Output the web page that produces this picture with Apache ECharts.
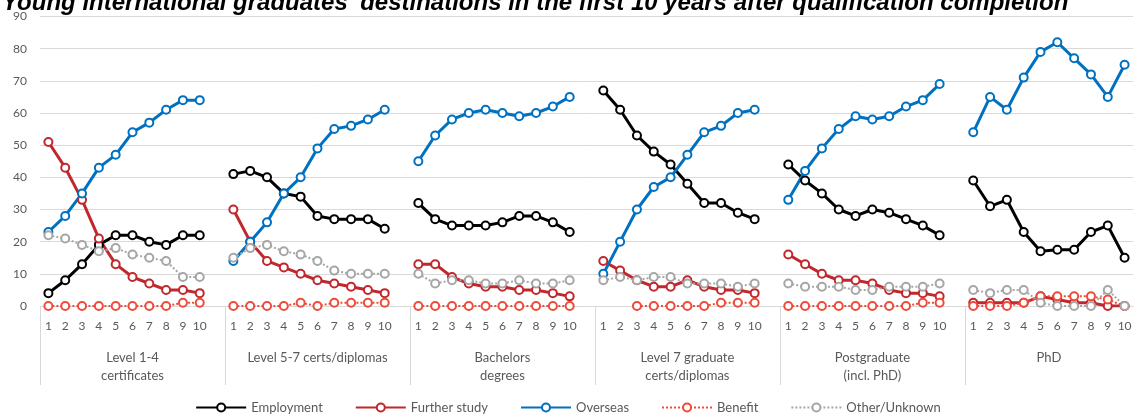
<!DOCTYPE html>
<html>
<head>
<meta charset="utf-8">
<script src="https://cdn.jsdelivr.net/npm/echarts@6/dist/echarts.min.js"></script>
<style>
  html, body { margin: 0; padding: 0; background: #fff; }
  #chart { width: 1136px; height: 414px; }
</style>
</head>
<body>
<div id="chart"></div>
<script>
// ---- Data ----
const chartTitle = "Young international graduates' destinations in the first 10 years after qualification completion";
const years = ['1', '2', '3', '4', '5', '6', '7', '8', '9', '10'];
const groupNames = ['Level 1-4\ncertificates', 'Level 5-7 certs/diplomas', 'Bachelors\ndegrees',
  'Level 7 graduate\ncerts/diplomas', 'Postgraduate\n(incl. PhD)', 'PhD'];
const seriesNames = ['Employment', 'Further study', 'Overseas', 'Benefit', 'Other/Unknown'];
const yTicks = [0, 10, 20, 30, 40, 50, 60, 70, 80, 90];

const employment = [
  [4, 8, 13, 19, 22, 22, 20, 19, 22, 22],
  [41, 42, 40, 35, 34, 28, 27, 27, 27, 24],
  [32, 27, 25, 25, 25, 26, 28, 28, 26, 23],
  [67, 61, 53, 48, 44, 38, 32, 32, 29, 27],
  [44, 39, 35, 30, 28, 30, 29, 27, 25, 22],
  [39, 31, 33, 23, 17, 17.5, 17.5, 23, 25, 15]
];
const furtherStudy = [
  [51, 43, 33, 21, 13, 9, 7, 5, 5, 4],
  [30, 20, 14, 12, 10, 8, 7, 6, 5, 4],
  [13, 13, 9, 7, 6, 6, 5, 5, 4, 3],
  [14, 11, 8, 6, 6, 8, 6, 5, 5, 4],
  [16, 13, 10, 8, 8, 7, 5, 4, 4, 3],
  [1, 1, 1, 1, 3, 2, 1, 1, 0, 0]
];
const overseas = [
  [23, 28, 35, 43, 47, 54, 57, 61, 64, 64],
  [14, 20, 26, 35, 40, 49, 55, 56, 58, 61],
  [45, 53, 58, 60, 61, 60, 59, 60, 62, 65],
  [10, 20, 30, 37, 40, 47, 54, 56, 60, 61],
  [33, 42, 49, 55, 59, 58, 59, 62, 64, 69],
  [54, 65, 61, 71, 79, 82, 77, 72, 65, 75]
];
const benefit = [
  [0, 0, 0, 0, 0, 0, 0, 0, 1, 1],
  [0, 0, 0, 0, 1, 0, 1, 1, 1, 1],
  [0, 0, 0, 0, 0, 0, 0, 0, 0, 0],
  [null, null, 0, 0, 0, 0, 0, 1, 1, 1],
  [0, 0, 0, 0, 0, 0, 0, 0, 1, 1],
  [0, 0, 0, 1, 3, 3, 3, 3, 2, 0]
];
const otherUnknown = [
  [22, 21, 19, 17, 18, 16, 15, 14, 9, 9],
  [15, 18, 19, 17, 16, 14, 11, 10, 10, 10],
  [10, 7, 8, 8, 7, 7, 8, 7, 7, 8],
  [8, 9, 8, 9, 9, 7, 7, 7, 6, 7],
  [7, 6, 6, 6, 5, 5, 6, 6, 6, 7],
  [5, 4, 5, 5, 1, 0, 0, 0, 5, 0]
];

// ---- Build the flat category axis (a blank slot after each group except the last) ----
const categories = [];
const groupStart = [];
const groupSize = [];
groupNames.forEach((g, gi) => {
  groupStart.push(categories.length);
  years.forEach(y => categories.push(y));
  if (gi < groupNames.length - 1) categories.push('');
  groupSize.push(categories.length - groupStart[gi]);
});
function flatten(groups) {
  const out = [];
  groups.forEach((vals, gi) => {
    vals.forEach(v => out.push(v));
    if (gi < groups.length - 1) out.push(null);
  });
  return out;
}
// group-label axis in half-slot steps (boundaryGap false)
const halfCount = categories.length * 2 + 1;
const groupAxisData = new Array(halfCount).fill('');
const separators = [];
groupNames.forEach((g, gi) => {
  groupAxisData[2 * groupStart[gi] + groupSize[gi]] = g;
  separators.push(2 * groupStart[gi]);
});

const FONT = 'Lato, "Open Sans", sans-serif';
const GREY = '#595959';

function lineSeries(name, data, color, width, type) {
  return {
    name: name,
    type: 'line',
    data: flatten(data),
    xAxisIndex: 0,
    symbol: 'emptyCircle',
    symbolSize: 8,
    connectNulls: false,
    lineStyle: { color: color, width: width, type: type },
    itemStyle: { color: color, borderWidth: 1.5 },
    emphasis: { disabled: true }
  };
}

const chart = echarts.init(document.getElementById('chart'), null, { renderer: 'canvas' });
chart.setOption({
  animation: false,
  title: {
    text: chartTitle,
    left: -3,
    top: -14,
    textStyle: { fontSize: 24, fontWeight: 'bold', fontStyle: 'italic', color: '#000', fontFamily: 'Arial, "Liberation Sans", sans-serif' }
  },
  grid: { left: 40, right: 0, top: 16.5, bottom: 108, containLabel: false },
  legend: {
    top: 396,
    left: 'center',
    itemWidth: 50,
    itemHeight: 10,
    itemGap: 32,
    textStyle: { color: GREY, fontSize: 13, fontFamily: FONT },
    data: seriesNames
  },
  xAxis: [
    {
      type: 'category',
      data: categories,
      boundaryGap: true,
      axisLine: { lineStyle: { color: '#D9D9D9', width: 1 } },
      axisTick: { show: false },
      axisLabel: { interval: 0, margin: 14, color: GREY, fontSize: 12, fontFamily: FONT }
    },
    {
      type: 'category',
      data: groupAxisData,
      boundaryGap: false,
      position: 'bottom',
      axisLine: { show: false },
      axisTick: {
        show: true,
        length: 79,
        interval: (i) => separators.indexOf(i) >= 0,
        lineStyle: { color: '#D9D9D9', width: 1 }
      },
      axisLabel: { interval: 0, margin: 43, color: GREY, fontSize: 13, lineHeight: 18, fontFamily: FONT }
    }
  ],
  yAxis: {
    type: 'value',
    min: yTicks[0],
    max: yTicks[yTicks.length - 1],
    interval: 10,
    axisLine: { show: false },
    axisTick: { show: false },
    splitLine: { lineStyle: { color: '#D9D9D9', width: 1 } },
    axisLabel: { color: GREY, fontSize: 12, margin: 13, fontFamily: FONT }
  },
  series: [
    lineSeries(seriesNames[0], employment, '#000000', 3, 'solid'),
    lineSeries(seriesNames[1], furtherStudy, '#C0282D', 3, 'solid'),
    lineSeries(seriesNames[2], overseas, '#0070C0', 3, 'solid'),
    lineSeries(seriesNames[3], benefit, '#EE4B3B', 2, 'dotted'),
    lineSeries(seriesNames[4], otherUnknown, '#A6A6A6', 2, 'dotted')
  ]
});
</script>
</body>
</html>
